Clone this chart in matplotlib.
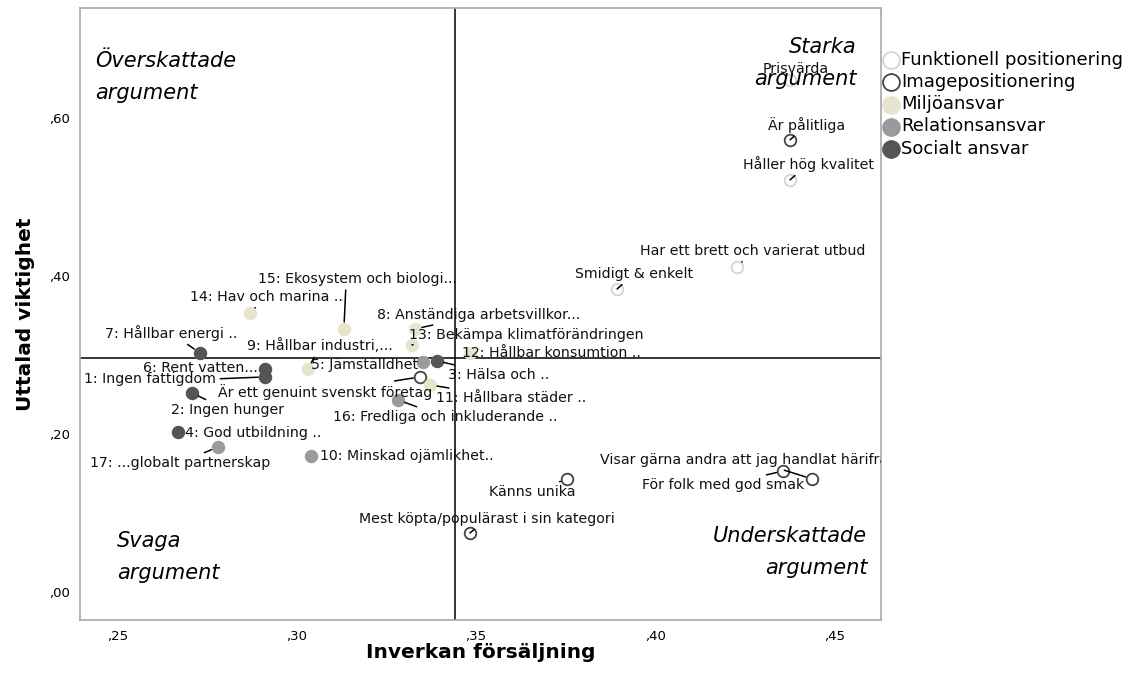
import matplotlib
matplotlib.use("Agg")
import matplotlib.pyplot as plt

# data
labels = ["Prisvärda", "Håller hög kvalitet", "Har ett brett och varierat utbud", "Smidigt & enkelt",
          "Är pålitliga", "Är ett genuint svenskt företag", "Visar gärna andra att jag handlat härifrån",
          "För folk med god smak", "Känns unika", "Mest köpta/populärast i sin kategori",
          "14: Hav och marina ..", "15: Ekosystem och biologi...", "8: Anständiga arbetsvillkor...",
          "13: Bekämpa klimatförändringen", "12: Hållbar konsumtion ..", "9: Hållbar industri,...",
          "11: Hållbara städer ..",
          "7: Hållbar energi ..", "6: Rent vatten...", "1: Ingen fattigdom", "2: Ingen hunger",
          "4: God utbildning ..", "3: Hälsa och ..",
          "17: ...globalt partnerskap", "10: Minskad ojämlikhet..", "16: Fredliga och inkluderande ..",
          "5: Jämställdhet"]
x_sales = [0.4377, 0.4377, 0.4229, 0.3894,
           0.4377, 0.3344, 0.4439, 0.4358, 0.3754, 0.3483,
           0.2869, 0.3131, 0.3330, 0.3321, 0.3483, 0.3031, 0.3372,
           0.2729, 0.2911, 0.2911, 0.2707, 0.2668, 0.3391,
           0.2779, 0.3039, 0.3282, 0.3352]
y_importance = [0.6480, 0.5215, 0.4114, 0.3835,
                0.5722, 0.2722, 0.1430, 0.1532, 0.1430, 0.0747,
                0.3532, 0.3329, 0.3329, 0.3127, 0.3025, 0.2823, 0.2620,
                0.3025, 0.2823, 0.2722, 0.2519, 0.2025, 0.2924,
                0.1835, 0.1722, 0.2430, 0.2911]
group = ["Funktionell positionering"] * 4 + ["Imagepositionering"] * 6 + ["Miljöansvar"] * 7 + \
        ["Socialt ansvar"] * 6 + ["Relationsansvar"] * 4
groups = ["Funktionell positionering", "Imagepositionering", "Miljöansvar", "Relationsansvar", "Socialt ansvar"]
x_ref, y_ref = 0.3441, 0.2962

# styles
face = {"Funktionell positionering": "white", "Imagepositionering": "white", "Miljöansvar": "#e6e4cc",
        "Relationsansvar": "#9a9a9a", "Socialt ansvar": "#555555"}
edge = {"Funktionell positionering": "#d4d4d4", "Imagepositionering": "#444444", "Miljöansvar": "#e6e4cc",
        "Relationsansvar": "#9a9a9a", "Socialt ansvar": "#555555"}
# label offsets in pixels (dx, dy up), leader line yes/no
lay = {
    "Prisvärda": (6, 11, False), "Håller hög kvalitet": (18, 16, True),
    "Har ett brett och varierat utbud": (16, 16, True), "Smidigt & enkelt": (17, 15, True),
    "Är pålitliga": (17, 15, True), "Är ett genuint svenskt företag": (-95, -15, True),
    "Visar gärna andra att jag handlat härifrån": (-212, 20, True),
    "För folk med god smak": (-60, -14, True), "Känns unika": (-35, -13, True),
    "Mest köpta/populärast i sin kategori": (17, 14, True),
    "14: Hav och marina ..": (16, 16, True), "15: Ekosystem och biologi...": (14, 50, True),
    "8: Anständiga arbetsvillkor...": (63, 14, True), "13: Bekämpa klimatförändringen": (114, 10, True),
    "12: Hållbar konsumtion ..": (82, 0, False), "9: Hållbar industri,...": (12, 23, True),
    "11: Hållbara städer ..": (81, -13, True),
    "7: Hållbar energi ..": (-29, 20, True), "6: Rent vatten...": (-65, 1, False),
    "1: Ingen fattigdom": (-115, -2, True), "2: Ingen hunger": (35, -17, True),
    "4: God utbildning ..": (75, -1, False), "3: Hälsa och ..": (62, -14, True),
    "17: ...globalt partnerskap": (-38, -16, True), "10: Minskad ojämlikhet..": (96, 0, False),
    "16: Fredliga och inkluderande ..": (47, -17, True), "5: Jämställdhet": (-58, -3, False),
}
relpos = {"15: Ekosystem och biologi...": (0.44, 0.1), "1: Ingen fattigdom": (1.0, 0.5)}

fig = plt.figure(figsize=(11.34, 6.88), dpi=100)
ax = fig.add_axes([80 / 1134, 1 - 620 / 688, 801 / 1134, 612 / 688])
ax.set_xlim(0.2394, 0.4631); ax.set_ylim(-0.0354, 0.739)

for g in groups:
    xs = [x for x, gg in zip(x_sales, group) if gg == g]
    ys = [y for y, gg in zip(y_importance, group) if gg == g]
    ax.scatter(xs, ys, s=70, facecolor=face[g], edgecolor=edge[g], linewidths=1.3, zorder=3, label=g)

ax.axvline(x_ref, color="black", lw=1.1, zorder=1)
ax.axhline(y_ref, color="black", lw=1.1, zorder=1)

for lab, x, y in zip(labels, x_sales, y_importance):
    dx, dy, lead = lay[lab]
    ha = "left" if lab.startswith("Visar") else "center"
    ap = None
    if lead:
        ap = dict(arrowstyle="-", color="black", lw=1.1, shrinkA=1, shrinkB=5)
        if lab in relpos:
            ap["relpos"] = relpos[lab]
    ax.annotate(lab, (x, y), xytext=(dx, dy), textcoords="offset pixels",
                ha=ha, va="center", fontsize=10.2, color="#111111", arrowprops=ap,
                annotation_clip=False, clip_on=True, zorder=4)

qkw = dict(transform=ax.transAxes, fontsize=15, style="italic", linespacing=1.75, zorder=5)
ax.text(0.019, 0.930, "Överskattade\nargument", ha="left", va="top", **qkw)
ax.text(0.970, 0.952, "Starka\nargument", ha="right", va="top", multialignment="right", **qkw)
ax.text(0.046, 0.146, "Svaga\nargument", ha="left", va="top", **qkw)
ax.text(0.983, 0.154, "Underskattade\nargument", ha="right", va="top", multialignment="right", **qkw)

ax.set_xticks([0.25, 0.30, 0.35, 0.40, 0.45])
ax.set_xticklabels([",25", ",30", ",35", ",40", ",45"])
ax.set_yticks([0.0, 0.2, 0.4, 0.6])
ax.set_yticklabels([",00", ",20", ",40", ",60"])
ax.tick_params(axis="x", length=0, labelsize=9.5, pad=7)
ax.tick_params(axis="y", length=0, labelsize=9.5, pad=7)
for sp in ax.spines.values():
    sp.set_color("#a8a8a8"); sp.set_linewidth(1.2)
ax.set_xlabel("Inverkan försäljning", fontsize=14.5, fontweight="bold", labelpad=0)
ax.set_ylabel("Uttalad viktighet", fontsize=14.5, fontweight="bold", labelpad=10)

ax.legend(loc="upper left", bbox_to_anchor=(883 / 1134, 1 - 51 / 688), bbox_transform=fig.transFigure,
          frameon=False, fontsize=13, markerscale=1.45, handletextpad=0.1, handlelength=0.9,
          labelspacing=0.23, borderpad=0, borderaxespad=0)

fig.savefig("out.png", dpi=100)
